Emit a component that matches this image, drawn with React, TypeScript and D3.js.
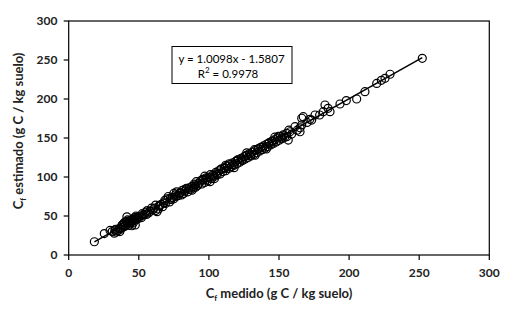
import React from "react";
import * as d3 from "d3";

const measured: number[] = [
  18.3, 25.4, 29.5, 31, 32.5, 33.5, 34, 35, 36, 36.5, 37, 37.5, 38, 39, 39.5, 40, 40, 41, 41.5, 42, 42, 43, 43.5, 44, 44,
  45, 45.5, 46, 46, 47, 47.5, 48, 48, 49, 50, 51, 52, 53, 54, 55.5, 56, 57, 58, 60, 62, 62, 63, 64, 65, 66, 67, 68, 69,
  70, 71, 72, 73, 74, 75, 75, 76, 77, 78, 79, 80, 80.5, 81, 82, 83, 84, 85, 86, 87, 88, 88, 89, 90, 90.5, 91, 92, 93,
  94, 95, 96, 97, 97, 98, 99, 100, 100.8, 101, 102, 103, 104, 104, 105, 106, 107, 108, 109, 110, 111, 112, 112, 113,
  114, 115, 116, 117, 118, 118, 119, 120, 121, 122, 123, 124, 125, 126, 127, 127, 128, 129, 130, 131, 132, 133, 133,
  134, 135, 136, 137, 138, 139, 140, 141, 141, 142, 143, 144, 145, 146, 147, 147, 148, 149, 150, 151, 152, 153, 154,
  155.5, 155.5, 156.6, 157.8, 159, 161.4, 163, 165, 165, 166.2, 166.2, 167.3, 170, 172, 173.3, 175.7, 179, 181.6,
  182.8, 185, 186.4, 193.5, 198, 205.4, 211.3, 219.7, 223, 225.6, 229.2, 252.2,
  33, 38.5, 40.5, 43, 45, 47, 49.5, 52.5, 55, 59, 61, 64.5, 68.5, 72.5, 76.5, 79.5, 82.5, 85.5, 89.5, 92.5,
  95.5, 98.5, 101.5, 105.5, 108.5, 111.5, 114.5, 117.5, 120.5, 123.5, 126.5, 129.5, 132.5, 135.5, 138.5, 142.5,
  145.5, 149.5, 152.5, 157,
];

const estimated: number[] = [
  17, 27.5, 31.5, 30, 28, 33, 29.5, 31, 34, 30, 33, 35, 38, 36, 41, 37, 42, 43, 49, 40, 45, 38, 44, 42, 40,
  37.5, 46, 44, 41, 48, 38.5, 45, 50, 49, 47, 50, 48, 51, 52, 52, 57, 54, 56, 58, 57, 64, 55.5, 59, 63, 65, 62, 67, 66,
  72, 75, 68, 71, 74, 72, 79, 77, 81, 76, 79, 80, 77, 83, 79, 82, 85.5, 81, 86, 84, 88, 83, 86, 90, 87, 94, 89, 92,
  95, 91, 96, 93, 101, 99, 95, 100, 94, 103, 98, 102.6, 101, 98, 106, 103, 108, 104, 110, 107, 112, 108, 115, 114,
  111, 116, 113, 118, 115, 112, 120, 117, 122, 119, 124, 121, 126, 123, 128, 131, 125, 130, 127, 132, 129, 134, 128,
  131, 136, 133, 138, 135, 140, 137, 142, 136, 139, 144, 141, 146, 143, 148, 151, 145, 150, 147, 152, 149, 154, 151,
  151.7, 156, 147.4, 158, 155, 164.5, 160, 158, 163, 166.7, 175.3, 177.3, 170, 174, 173, 179.5, 179.5, 183.7,
  192.3, 188, 183.7, 193.6, 198, 200, 209.4, 220, 224, 226.5, 231.7, 252.2,
  32, 39, 38, 42, 43, 46, 48, 53, 55, 60, 60, 63, 70, 73, 75, 80, 84, 84, 91, 91,
  97, 97, 100, 104, 110, 111, 117, 116, 122, 122, 127, 128, 135, 136, 138, 143,
  145, 152, 150, 160,
];

const slope = 1.0098;
const intercept = -1.5807;
const xTicks: number[] = [0, 50, 100, 150, 200, 250, 300];
const yTicks: number[] = [0, 50, 100, 150, 200, 250, 300];
const equationText = "y = 1.0098x - 1.5807";
const r2Text = "0.9978";

const W = 521;
const H = 315;
const left = 68.7;
const right = 489.3;
const top = 21;
const bottom = 255;

export default function App() {
  const x = d3.scaleLinear().domain([0, 300]).range([left, right]);
  const y = d3.scaleLinear().domain([0, 300]).range([bottom, top]);
  const xMin = d3.min(measured) as number;
  const xMax = d3.max(measured) as number;
  const line = d3.line<number>().x((d) => x(d)).y((d) => y(slope * d + intercept));
  const font = "Lato, 'Liberation Sans', sans-serif";
  return (
    <svg
      width={W}
      height={H}
      style={{ position: "absolute", left: 0, top: 0, background: "#fff" }}
      fontFamily={font}
    >
      <rect x={0} y={0} width={W} height={H} fill="#fff" />
      <rect x={left} y={top} width={right - left} height={bottom - top} fill="none" stroke="#000" strokeWidth={1.2} />
      {xTicks.map((t) => (
        <g key={"x" + t}>
          <line x1={x(t)} x2={x(t)} y1={bottom} y2={bottom + 5} stroke="#000" strokeWidth={1.2} />
          <text x={x(t)} y={276.5} textAnchor="middle" fontSize={12} fontWeight="bold" fill="#222">
            {t}
          </text>
        </g>
      ))}
      {yTicks.map((t) => (
        <g key={"y" + t}>
          <line x1={left - 5} x2={left} y1={y(t)} y2={y(t)} stroke="#000" strokeWidth={1.2} />
          <text x={57.5} y={y(t) + 4.3} textAnchor="end" fontSize={12} fontWeight="bold" fill="#222">
            {t}
          </text>
        </g>
      ))}
      {measured.map((m, i) => (
        <circle key={i} cx={x(m)} cy={y(estimated[i])} r={4} fill="none" stroke="#000" strokeWidth={1.2} />
      ))}
      <path d={line([xMin, xMax]) || ""} stroke="#000" strokeWidth={1.5} fill="none" />
      <rect x={172} y={46.5} width={120} height={37} fill="#fff" stroke="#000" strokeWidth={1} />
      <text x={231.5} y={62.5} textAnchor="middle" fontSize={11.5} fill="#000">
        {equationText}
      </text>
      <text x={228} y={77.5} textAnchor="middle" fontSize={11.5} fill="#000">
        R<tspan dy={-5} fontSize={8}>2</tspan>
        <tspan dy={5}> = {r2Text}</tspan>
      </text>
      <text x={279} y={298} textAnchor="middle" fontSize={13} fontWeight="bold" fill="#222">
        C<tspan dy={3} fontSize={8}>f</tspan>
        <tspan dy={-3}> medido (g C / kg suelo)</tspan>
      </text>
      <text
        transform={`translate(23, 131) rotate(-90)`}
        textAnchor="middle"
        fontSize={13}
        fontWeight="bold"
        fill="#222"
      >
        C<tspan dy={3} fontSize={8}>f</tspan>
        <tspan dy={-3}> estimado (g C / kg suelo)</tspan>
      </text>
    </svg>
  );
}
